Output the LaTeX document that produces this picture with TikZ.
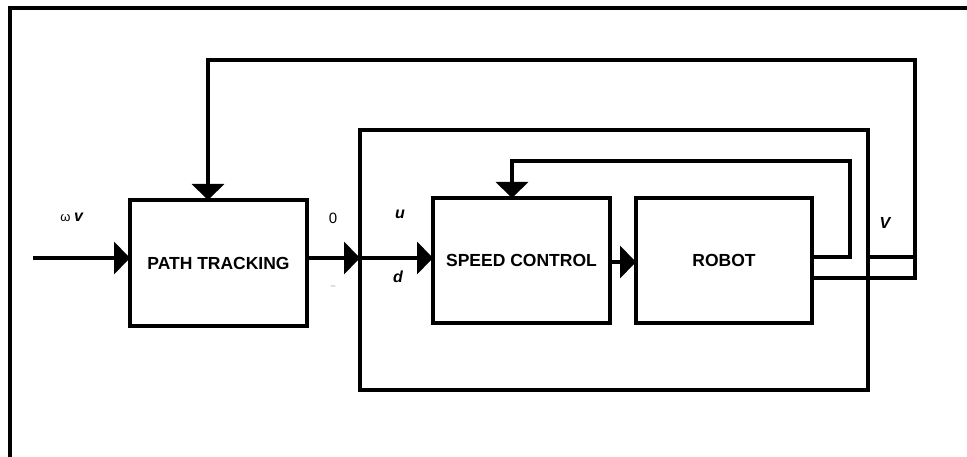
\documentclass[tikz,border=0pt]{standalone}
\usepackage{fontspec}
\setmainfont{Liberation Sans}
\usetikzlibrary{arrows.meta}
\tikzset{
  blk/.style={draw, line width=4pt, inner sep=0pt, outer sep=0pt, font=\bfseries\fontsize{17.5}{17.5}\selectfont},
  wire/.style={line width=4.5pt, line cap=butt, line join=miter},
  arr/.style={wire, -{Triangle[length=16pt,width=32pt]}},
  sig/.style={font=\bfseries\itshape\fontsize{16}{16}\selectfont},
}
\begin{document}
\begin{tikzpicture}[x=1pt,y=-1pt]
\useasboundingbox (0,0) rectangle (967,457);
% frame (top and left only)
\draw[line width=4pt] (10,457) -- (10,8) -- (967,8);
% blocks
\node[blk, minimum width=177pt, minimum height=126pt] (pt) at (218.5,263) {PATH TRACKING};
\node[blk, minimum width=177pt, minimum height=125pt] (sc) at (521.5,260.5) {SPEED CONTROL};
\node[blk, minimum width=176pt, minimum height=125pt] (rb) at (724,260.5) {ROBOT};
\node[blk, minimum width=508pt, minimum height=260pt] (loop) at (614,260) {};
% coordinates
\coordinate (in) at (33,258);
\coordinate (c1) at (850,257);
\coordinate (c2) at (850,161);
\coordinate (c3) at (512,161);
\coordinate (d1) at (915,278);
\coordinate (d2) at (915,60);
\coordinate (d3) at (208,60);
% connectors
\draw[arr] (in) -- (in -| pt.west);
\draw[arr] (pt.east |- 0,258) -- (loop.west |- 0,258);
\draw[arr] (loop.west |- 0,258) -- (sc.west |- 0,258);
\draw[arr] (sc.east |- 0,262) -- (rb.west |- 0,262);
\draw[arr] (rb.east |- c1) -- (c1) -- (c2) -- (c3) -- (c3 |- sc.north);
\draw[arr] (rb.east |- d1) -- (d1) -- (d2) -- (d3) -- (d3 |- pt.north);
\draw[wire] (loop.east |- c1) -- (c1 -| d1);
% labels
\node[inner sep=0pt] (lin) at (72,217) {\fontsize{13}{13}\selectfont ω\ \textbf{\textit{\fontsize{16}{16}\selectfont v}}};
\node[inner sep=0pt, font=\fontsize{15}{15}\selectfont] (lth) at (333,218) {0};
\node[inner sep=0pt, font=\fontsize{8}{8}\selectfont, text=gray] (ldash) at (333,287) {–};
\node[sig, inner sep=0pt] (lu) at (400,214) {u};
\node[sig, inner sep=0pt] (ld) at (398,277) {d};
\node[sig, inner sep=0pt] (lv) at (885,223) {V};
\end{tikzpicture}
\end{document}
